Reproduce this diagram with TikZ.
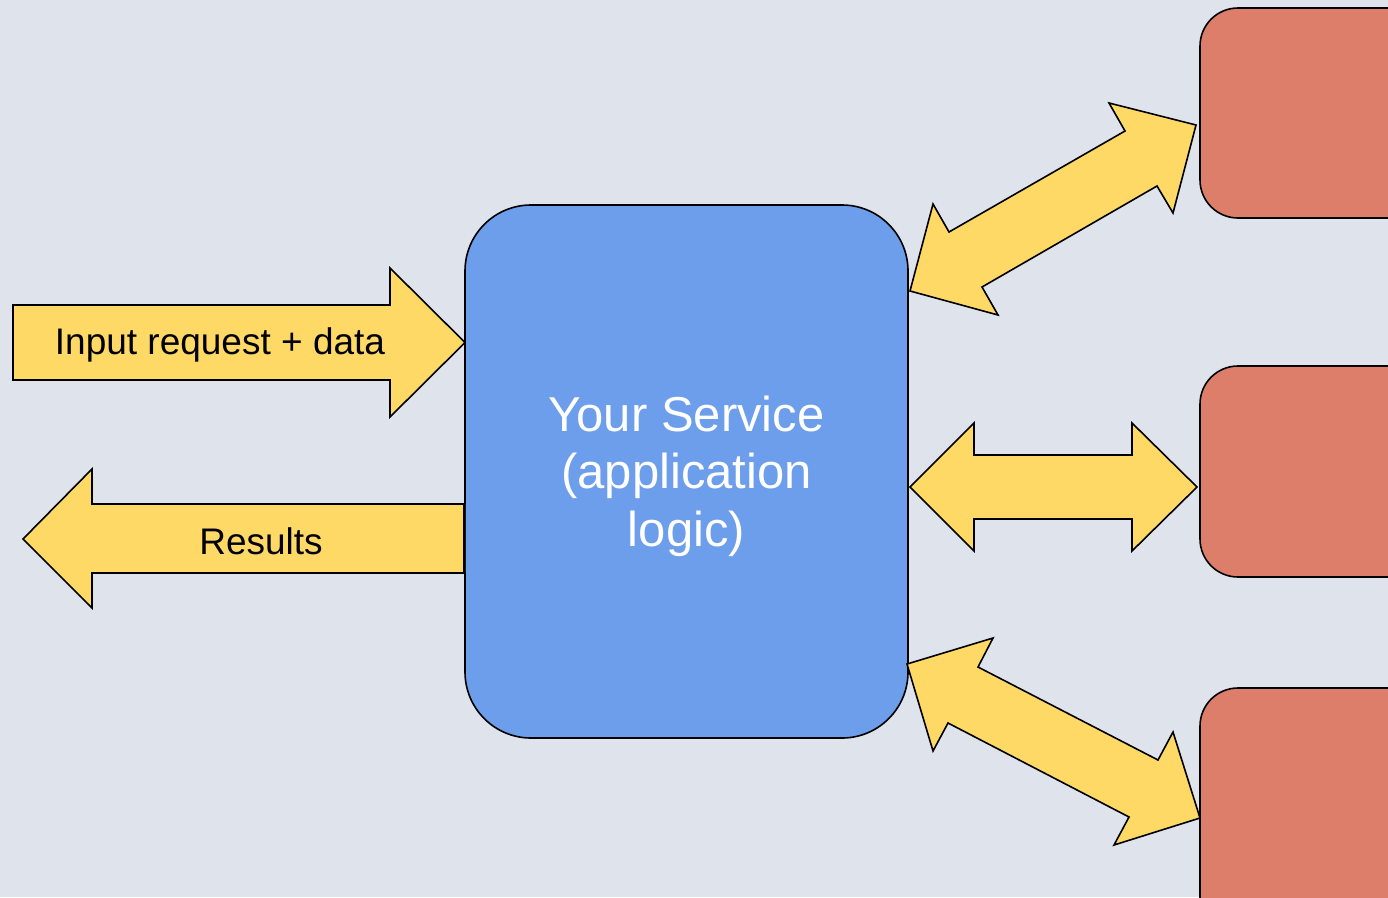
\documentclass[tikz,border=0pt]{standalone}
\usepackage{fontspec}
\setmainfont{Liberation Sans}
\definecolor{bgcol}{HTML}{DFE3EC}
\definecolor{arrowcol}{HTML}{FFD966}
\definecolor{servicecol}{HTML}{6D9EEB}
\definecolor{backendcol}{HTML}{DD7E6B}
\tikzset{
  outline/.style={draw=black, line width=1.6pt, line join=miter},
  blockarrow/.style={outline, fill=arrowcol},
  backend/.style={outline, fill=backendcol, rounded corners=38pt, inner sep=0pt},
  service/.style={outline, fill=servicecol, rounded corners=66pt, inner sep=0pt,
    minimum width=443pt, minimum height=533pt},
  label/.style={font=\fontsize{37}{44}\selectfont, text=black, inner sep=0pt},
}
\begin{document}
\begin{tikzpicture}[x=1pt, y=-1pt]
  \useasboundingbox (0,0) rectangle (1388,897);
  \clip (0,0) rectangle (1388,897);
  \fill[bgcol] (0,0) rectangle (1388,897);

  % central service block
  \node[service] (svc) at (686.5,471.5) {};
  \node[align=center, text=white, inner sep=0pt,
        font=\fontsize{49}{57.5}\selectfont] (svctext) at (686.5,476)
        {Your Service\\(application\\logic)};

  % back-end boxes, running off the right edge
  \node[backend, minimum width=240pt, minimum height=210pt] (b1) at (1320,113) {};
  \node[backend, minimum width=240pt, minimum height=211pt] (b2) at (1320,471.5) {};
  \node[backend, minimum width=240pt, minimum height=262pt] (b3) at (1320,819) {};

  % incoming request arrow
  \draw[blockarrow] (13,305) -- (390,305) -- (390,268) -- (465,342.5)
    -- (390,417) -- (390,380) -- (13,380) -- cycle;
  \node[label] (inlbl) at (220,345) {Input request + data};

  % outgoing results arrow
  \draw[blockarrow] (465,504) -- (92,504) -- (92,469) -- (23,539)
    -- (92,608) -- (92,573) -- (465,573);
  \node[label] (outlbl) at (261,541) {Results};
  \draw[outline] (svc.west) ++(0,32.5) -- ++(0,69);

  % two-way arrows between the service and the back-end boxes
  \draw[blockarrow] (910,291) -- (933,204) -- (949,232) -- (1125,131)
    -- (1109,103) -- (1196,125) -- (1173,213) -- (1157,186)
    -- (982,287) -- (998,315) -- cycle;
  \draw[blockarrow] (910,487) -- (974,423) -- (974,455) -- (1132,455)
    -- (1132,423) -- (1197,487) -- (1132,551) -- (1132,519)
    -- (974,519) -- (974,551) -- cycle;
  \draw[blockarrow] (907,664) -- (993,638) -- (978,667) -- (1158,760)
    -- (1173,732) -- (1200,818) -- (1114,845) -- (1129,817)
    -- (948,723) -- (933,751) -- cycle;
\end{tikzpicture}
\end{document}
